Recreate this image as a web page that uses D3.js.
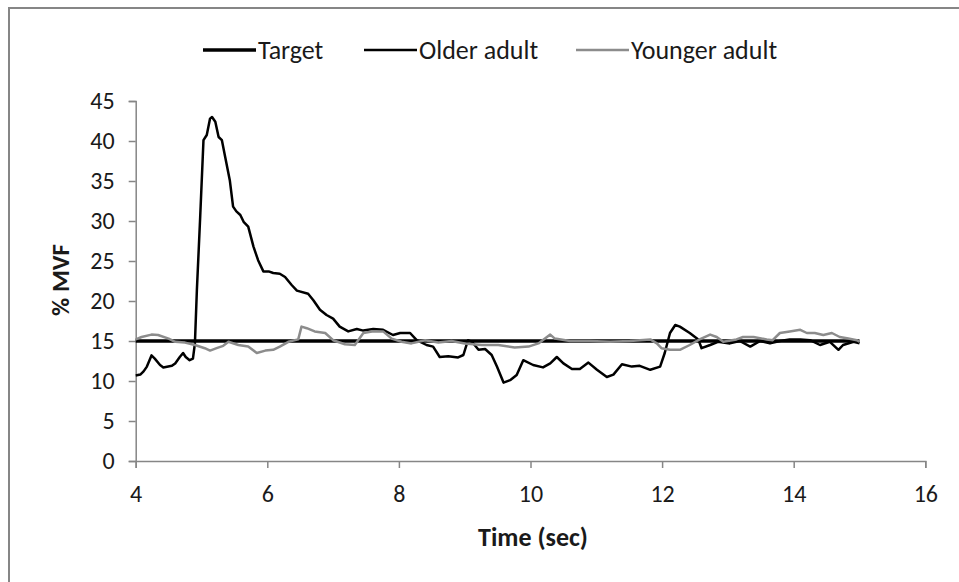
<!DOCTYPE html>
<html><head><meta charset="utf-8">
<script src="https://cdn.jsdelivr.net/npm/d3@7"></script>
<style>
html,body{margin:0;padding:0;background:#fff;}
text{font-family:Carlito,"Liberation Sans Narrow","Arial Narrow",Lato,sans-serif;fill:#1a1a1a;}
</style></head>
<body><svg id="c" width="959" height="582"></svg>
<script>
const xTicks = [4, 6, 8, 10, 12, 14, 16];
const yTicks = [0, 5, 10, 15, 20, 25, 30, 35, 40, 45];
const seriesNames = ["Target", "Older adult", "Younger adult"];

const targetT = [4, 15];
const targetV = [15, 15];

const olderT = [4.00,4.07,4.12,4.17,4.24,4.29,4.37,4.42,4.55,4.60,4.67,4.72,4.76,4.82,4.87,4.90,4.93,4.98,5.03,5.08,5.13,5.16,5.21,5.26,5.31,5.36,5.43,5.48,5.53,5.59,5.64,5.71,5.79,5.86,5.94,6.02,6.09,6.19,6.27,6.37,6.45,6.62,6.70,6.80,6.90,7.00,7.10,7.23,7.36,7.46,7.61,7.76,7.91,8.02,8.17,8.27,8.42,8.52,8.62,8.75,8.90,8.98,9.05,9.11,9.21,9.31,9.41,9.49,9.59,9.69,9.79,9.89,10.04,10.19,10.30,10.40,10.50,10.63,10.75,10.88,11.01,11.16,11.26,11.39,11.54,11.66,11.82,11.97,12.04,12.12,12.20,12.27,12.42,12.55,12.60,12.73,12.85,13.03,13.18,13.34,13.49,13.64,13.79,13.94,14.10,14.25,14.40,14.55,14.68,14.75,14.91,15.00];
const olderV = [10.7,10.8,11.2,11.8,13.2,12.8,12.0,11.7,11.9,12.2,13.0,13.5,13.0,12.6,12.8,14.7,21.4,30.5,40.1,40.75,42.8,43.0,42.4,40.5,40.1,38.0,35.1,31.8,31.2,30.75,29.9,29.3,26.8,25.1,23.7,23.7,23.5,23.4,23.0,22.0,21.3,20.9,20.1,18.9,18.25,17.8,16.8,16.2,16.5,16.3,16.5,16.4,15.75,16.0,16.0,15.1,14.5,14.3,13.0,13.1,12.95,13.25,15.1,14.9,13.9,14.0,13.25,11.8,9.8,10.1,10.75,12.6,12.0,11.7,12.2,13.0,12.2,11.5,11.5,12.3,11.4,10.5,10.8,12.1,11.8,11.9,11.4,11.8,13.5,16.0,17.0,16.8,16.0,15.2,14.1,14.5,14.9,14.7,15.0,14.3,15.0,14.7,15.0,15.2,15.2,15.1,14.5,14.9,13.9,14.5,14.9,14.7];

const youngerT = [4.00,4.09,4.24,4.34,4.50,4.60,4.75,4.90,5.05,5.13,5.23,5.33,5.41,5.56,5.71,5.84,5.97,6.09,6.19,6.32,6.47,6.52,6.60,6.72,6.88,7.00,7.18,7.33,7.46,7.59,7.76,7.89,8.04,8.19,8.40,8.60,8.80,9.00,9.26,9.51,9.76,9.97,10.12,10.30,10.37,10.60,10.90,11.21,11.51,11.82,11.92,11.99,12.12,12.27,12.42,12.57,12.73,12.83,12.93,13.13,13.23,13.39,13.59,13.68,13.79,13.94,14.10,14.20,14.32,14.45,14.58,14.70,14.83,14.96,15.00];
const youngerV = [15.2,15.5,15.8,15.75,15.3,14.9,14.8,14.5,14.1,13.8,14.1,14.4,14.9,14.5,14.3,13.5,13.8,13.9,14.3,14.9,15.2,16.8,16.6,16.2,16.0,15.1,14.6,14.5,16.0,16.2,16.2,15.3,14.9,14.7,15.1,14.8,15.0,14.7,14.5,14.5,14.2,14.3,14.7,15.8,15.3,15.0,15.0,14.9,15.0,15.2,14.7,14.1,13.9,13.9,14.5,15.2,15.8,15.5,14.9,15.2,15.5,15.5,15.2,15.1,16.0,16.2,16.4,16.0,16.0,15.75,16.0,15.5,15.3,15.1,14.9];

const svg = d3.select("#c");
const axisColor = "#868686";
const fontStack = 'Carlito,"Liberation Sans Narrow","Arial Narrow",Lato,sans-serif';

// outer chart frame
svg.append("rect").attr("x", 9).attr("y", 8).attr("width", 1000).attr("height", 700)
  .attr("fill", "none").attr("stroke", axisColor).attr("stroke-width", 2);

const x = d3.scaleLinear().domain([4, 16]).range([135.7, 925.3]);
const y = d3.scaleLinear().domain([0, 45]).range([461, 101]);

// axes
const xAxis = svg.append("g").attr("transform", `translate(0,${y(0)})`)
  .call(d3.axisBottom(x).tickValues(xTicks).tickSize(7).tickPadding(17).tickFormat(d3.format("d")));
const yAxis = svg.append("g").attr("transform", `translate(${x(4)},0)`)
  .call(d3.axisLeft(y).tickValues(yTicks).tickSize(7).tickPadding(14).tickFormat(d3.format("d")));
[xAxis, yAxis].forEach(g => {
  g.select(".domain").attr("stroke", axisColor).attr("stroke-width", 1.5);
  g.selectAll(".tick line").attr("stroke", axisColor).attr("stroke-width", 1.5);
  g.selectAll(".tick text").attr("font-size", 24).attr("fill", "#1a1a1a")
    .style("font-family", fontStack);
});

// lines
const line = d3.line().x(d => x(d[0])).y(d => y(d[1]));
const zip = (a, b) => a.map((t, i) => [t, b[i]]);
const series = [
  {name: seriesNames[0], data: zip(targetT, targetV), color: "#000", w: 3.5},
  {name: seriesNames[1], data: zip(olderT, olderV), color: "#000", w: 2.5},
  {name: seriesNames[2], data: zip(youngerT, youngerV), color: "#8c8c8c", w: 2.5}
];
series.forEach(s => {
  svg.append("path").datum(s.data).attr("d", line)
    .attr("fill", "none").attr("stroke", s.color).attr("stroke-width", s.w)
    .attr("stroke-linejoin", "round");
});

// legend
const legX = [203, 364, 576];
series.forEach((s, i) => {
  const g = svg.append("g").attr("transform", `translate(${legX[i]},50)`);
  g.append("line").attr("x1", 0).attr("x2", 53).attr("y1", 0).attr("y2", 0)
    .attr("stroke", s.color).attr("stroke-width", s.w);
  g.append("text").attr("x", 55).attr("y", 0).attr("dy", "0.35em")
    .attr("font-size", 26).text(s.name);
});

// axis titles
svg.append("text").attr("x", 533).attr("y", 537).attr("dy", "0.35em")
  .attr("text-anchor", "middle").attr("font-size", 26).attr("font-weight", "bold").text("Time (sec)");
svg.append("text").attr("transform", "translate(60,280) rotate(-90)").attr("dy", "0.35em")
  .attr("text-anchor", "middle").attr("font-size", 25).attr("font-weight", "bold").text("% MVF");
</script></body></html>
